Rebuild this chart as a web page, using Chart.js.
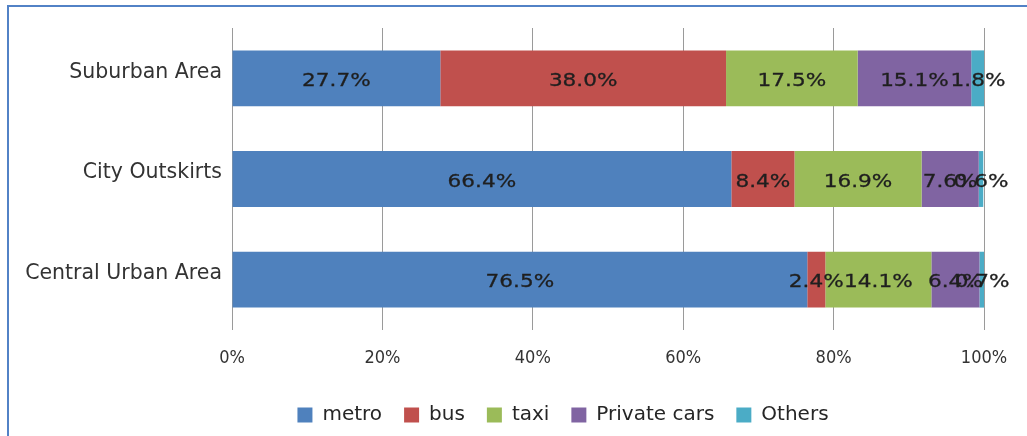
<!DOCTYPE html>
<html>
<head>
<meta charset="utf-8">
<script src="https://cdn.jsdelivr.net/npm/chart.js@4.4.0/dist/chart.umd.min.js"></script>
<style>
  html, body { margin: 0; padding: 0; background: #fff; }
  #wrap { position: relative; width: 1027px; height: 436px; overflow: hidden; }
  #frame { position: absolute; left: 7px; top: 5px; right: -4px; bottom: -4px;
    border-top: 2px solid #5282c6; border-left: 2px solid #5282c6; pointer-events: none; }
</style>
</head>
<body>
<div id="wrap">
  <canvas id="chart" width="1027" height="436"></canvas>
  <div id="frame"></div>
</div>
<script>
// ---- data ----
const areas = ['Suburban Area', 'City Outskirts', 'Central Urban Area'];
const modes = ['metro', 'bus', 'taxi', 'Private cars', 'Others'];
const metro = [27.7, 66.4, 76.5];
const bus = [38.0, 8.4, 2.4];
const taxi = [17.5, 16.9, 14.1];
const privateCars = [15.1, 7.6, 6.4];
const others = [1.8, 0.6, 0.7];
const xTicks = [0, 20, 40, 60, 80, 100];

const colors = ['#4f81bd', '#c0504d', '#9bbb59', '#8064a2', '#4bacc6'];
const series = [metro, bus, taxi, privateCars, others];

// labels centred in every segment
const segLabels = {
  id: 'segLabels',
  afterDatasetsDraw(chart) {
    const ctx = chart.ctx;
    ctx.save();
    ctx.font = '18px "DejaVu Sans"';
    ctx.fillStyle = '#1f1f1f';
    ctx.strokeStyle = '#1f1f1f';
    ctx.lineWidth = 0.3;
    ctx.textAlign = 'center';
    ctx.textBaseline = 'middle';
    chart.data.datasets.forEach((ds, i) => {
      chart.getDatasetMeta(i).data.forEach((bar, j) => {
        const cx = (bar.x + bar.base) / 2;
        const txt = ds.data[j].toFixed(1) + '%';
        ctx.save();
        ctx.translate(cx, bar.y + 3);
        ctx.scale(1.2, 1);
        ctx.fillText(txt, 0, 0);
        ctx.strokeText(txt, 0, 0);
        ctx.restore();
      });
    });
    ctx.restore();
  }
};

// legend sits right of centre in the original
const legendShift = {
  id: 'legendShift',
  afterLayout(chart) {
    chart.legend.left += 71;
    chart.legend.right += 71;
  }
};

new Chart(document.getElementById('chart'), {
  type: 'bar',
  data: {
    labels: areas,
    datasets: modes.map((m, i) => ({
      label: m,
      data: series[i],
      backgroundColor: colors[i],
      borderWidth: 0,
      barPercentage: 0.555,
      categoryPercentage: 1
    }))
  },
  options: {
    indexAxis: 'y',
    responsive: false,
    animation: false,
    layout: { padding: { top: 28, right: 43, left: 0, bottom: 1 } },
    plugins: {
      tooltip: { enabled: false },
      legend: {
        position: 'bottom',
        labels: {
          boxWidth: 15, boxHeight: 15, padding: 22,
          color: '#262626',
          font: { family: 'DejaVu Sans', size: 20 }
        }
      }
    },
    scales: {
      x: {
        stacked: true, min: 0, max: 100,
        afterBuildTicks: s => { s.ticks = xTicks.map(v => ({ value: v })); },
        afterFit: s => { s.height = 53; },
        grid: { color: '#9a9a9a', drawTicks: false },
        border: { display: false },
        ticks: {
          padding: 18, color: '#333',
          font: { family: '"Liberation Sans Narrow", "DejaVu Sans Condensed", "Liberation Sans"', size: 18 },
          callback: v => v + '%'
        }
      },
      y: {
        stacked: true,
        afterFit: s => { s.width = 232; },
        grid: { display: false, drawTicks: false },
        border: { display: false },
        ticks: {
          padding: 10, color: '#333', labelOffset: -6,
          font: { family: 'DejaVu Sans', size: 20.5 }
        }
      }
    }
  },
  plugins: [segLabels, legendShift]
});
</script>
</body>
</html>
